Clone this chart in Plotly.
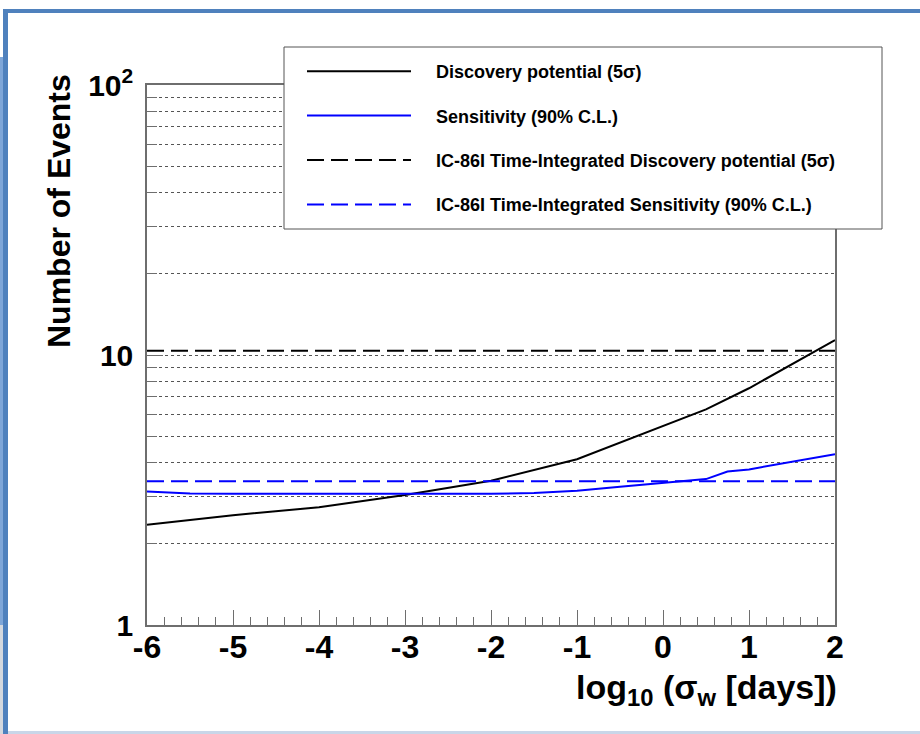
import plotly.graph_objects as go

# ---------------- data ----------------
x_disc = [-6, -5, -4, -3, -2, -1, 0.5, 1, 2]
y_disc = [2.35, 2.55, 2.73, 3.03, 3.42, 4.11, 6.29, 7.53, 11.36]

x_sens = [-6, -5.5, -5, -4.5, -4, -3.5, -3, -2.5, -2, -1.5, -1, -0.5, 0, 0.5, 0.75, 1, 2]
y_sens = [3.12, 3.07, 3.06, 3.06, 3.07, 3.07, 3.06, 3.06, 3.06, 3.08, 3.14, 3.25, 3.35, 3.47, 3.70, 3.77, 4.29]

x_range_ti = [-6, 2]
disc_ti = 10.37   # IC-86I time-integrated discovery potential
sens_ti = 3.41    # IC-86I time-integrated sensitivity

names = [
    "Discovery potential (5σ)",
    "Sensitivity (90% C.L.)",
    "IC-86I Time-Integrated Discovery potential (5σ)",
    "IC-86I Time-Integrated Sensitivity (90% C.L.)",
]

x_ticks = [-6, -5, -4, -3, -2, -1, 0, 1, 2]
y_ticks = [1, 10, 100]
y_ticktext = ["1", "10", "10<sup>2</sup>"]
y_minor = [2, 3, 4, 5, 6, 7, 8, 9, 20, 30, 40, 50, 60, 70, 80, 90]

# ---------------- layout helpers ----------------
W, H = 920, 734
L, R, T, B = 147, 85, 85, 109
PW, PH = W - L - R, H - T - B


def px(xp):
    return (xp - L) / PW


def py(yp):
    return (H - B - yp) / PH


FONT = "Liberation Sans, Arial, sans-serif"
PAD = "\u00a0" * 4

fig = go.Figure()
fig.add_trace(go.Scatter(x=x_disc, y=y_disc, mode="lines", name=PAD + names[0],
                         line=dict(color="black", width=2), legendgroup="a"))
fig.add_trace(go.Scatter(x=x_sens, y=y_sens, mode="lines", name=PAD + names[1],
                         line=dict(color="#0000ff", width=2), legendgroup="b"))
fig.add_trace(go.Scatter(x=x_range_ti, y=[disc_ti, disc_ti], mode="lines", name=PAD + names[2],
                         line=dict(color="black", width=2, dash="17px,7px"), legendgroup="c"))
fig.add_trace(go.Scatter(x=x_range_ti, y=[sens_ti, sens_ti], mode="lines", name=PAD + names[3],
                         line=dict(color="#0000ff", width=2, dash="17px,7px"), legendgroup="d"))

axcol = "#6e6e6e"
gridcol = "#555555"

shapes = [
    # legend box
    dict(type="rect", xref="paper", yref="paper", x0=px(284), x1=px(882), y0=py(229), y1=py(47),
         fillcolor="white", line=dict(color="#555555", width=1), layer="above"),
    # slide-like frame decorations
    dict(type="rect", xref="paper", yref="paper", x0=px(0), x1=px(3), y0=py(625), y1=py(57),
         fillcolor="#7ea6d8", line=dict(width=0), layer="below"),
    dict(type="rect", xref="paper", yref="paper", x0=px(0), x1=px(8), y0=py(734), y1=py(625),
         fillcolor="#d4d8de", line=dict(width=0), layer="below"),
    dict(type="rect", xref="paper", yref="paper", x0=px(3), x1=px(920), y0=py(13), y1=py(9),
         fillcolor="#4f81bd", line=dict(width=0), layer="below"),
    dict(type="rect", xref="paper", yref="paper", x0=px(3), x1=px(8), y0=py(734), y1=py(9),
         fillcolor="#4f81bd", line=dict(width=0), layer="below"),
    dict(type="rect", xref="paper", yref="paper", x0=px(8), x1=px(920), y0=py(734), y1=py(731),
         fillcolor="#c9d6e8", line=dict(width=0), layer="below"),
]

annotations = [
    dict(text="Number of Events", xref="paper", yref="paper", x=px(59), y=py(72),
         xanchor="center", yanchor="top", textangle=-90, showarrow=False,
         font=dict(family=FONT, size=32, color="black", weight="bold")),
    dict(text="log<sub>10</sub> (σ<sub>w</sub> [days])", xref="paper", yref="paper",
         x=px(839), y=py(666), xanchor="right", yanchor="top", showarrow=False,
         font=dict(family=FONT, size=34, color="black", weight="bold")),
]

fig.update_layout(
    width=W, height=H,
    margin=dict(l=L, r=R, t=T, b=B, pad=0),
    paper_bgcolor="white", plot_bgcolor="white",
    showlegend=True,
    legend=dict(
        x=px(302), y=py(53), xanchor="left", yanchor="top",
        bgcolor="rgba(0,0,0,0)", borderwidth=0,
        itemwidth=104, tracegroupgap=18, traceorder="grouped",
        font=dict(family=FONT, size=18, color="black", weight="bold"),
    ),
    shapes=shapes,
    annotations=annotations,
    xaxis=dict(
        range=[-6, 2], tickvals=x_ticks, ticktext=[str(v) for v in x_ticks],
        ticks="inside", ticklen=15, tickwidth=1, tickcolor=axcol,
        minor=dict(dtick=0.2, ticks="inside", ticklen=8, tickwidth=1, tickcolor=axcol, showgrid=False),
        showline=True, linecolor=axcol, linewidth=1.5, mirror=True,
        showgrid=False, zeroline=False, ticklabelstandoff=-7,
        tickfont=dict(family=FONT, size=32, color="black", weight="bold"),
    ),
    yaxis=dict(
        type="log", range=[0, 2], tickvals=y_ticks, ticktext=y_ticktext,
        ticks="inside", ticklen=16, tickwidth=1, tickcolor=axcol,
        minor=dict(tickvals=y_minor, ticks="inside", ticklen=10, tickwidth=1, tickcolor=axcol,
                   showgrid=True, gridcolor=gridcol, gridwidth=1, griddash="dot"),
        showline=True, linecolor=axcol, linewidth=1.5, mirror=True,
        showgrid=True, gridcolor=gridcol, gridwidth=1, griddash="dot",
        zeroline=False, ticklabelstandoff=6,
        tickfont=dict(family=FONT, size=30, color="black", weight="bold"),
    ),
)

fig.write_html("out.html")
